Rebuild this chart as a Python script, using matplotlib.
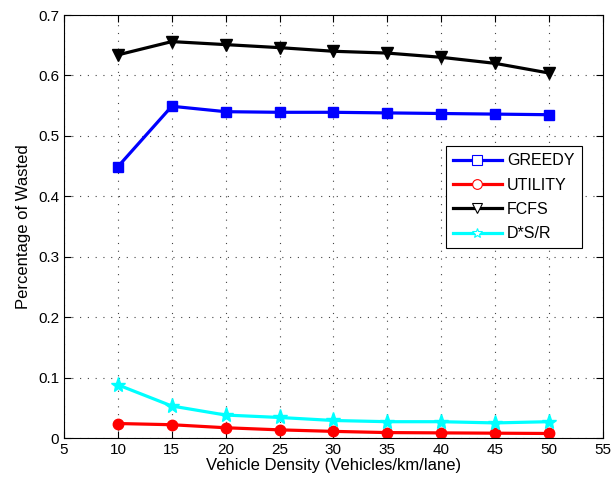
import matplotlib
matplotlib.use('Agg')
import matplotlib.pyplot as plt
from matplotlib.lines import Line2D

plt.rcParams['font.family'] = ['Liberation Sans', 'DejaVu Sans']

# vehicle density (vehicles/km/lane)
density = [10, 15, 20, 25, 30, 35, 40, 45, 50]

# percentage of wasted per scheme
greedy = [0.449, 0.549, 0.540, 0.539, 0.539, 0.538, 0.537, 0.536, 0.535]
utility = [0.024, 0.022, 0.017, 0.0135, 0.011, 0.009, 0.0085, 0.008, 0.0075]
fcfs = [0.634, 0.656, 0.651, 0.646, 0.640, 0.637, 0.630, 0.620, 0.604]
dsr = [0.088, 0.053, 0.038, 0.034, 0.029, 0.027, 0.027, 0.025, 0.027]

names = ['GREEDY', 'UTILITY', 'FCFS', 'D*S/R']
colors = ['#0000ff', '#ff0000', '#000000', '#00ffff']
markers = ['s', 'o', 'v', '*']
msizes = [7, 7.5, 9, 11]

fig = plt.figure(figsize=(6.12, 4.84), dpi=100)
ax = fig.add_axes([0.1046, 0.095, 0.8804, 0.874])

for ys, c, m, ms in zip([greedy, utility, fcfs, dsr], colors, markers, msizes):
    ax.plot(density, ys, color=c, lw=2.3, marker=m, ms=ms, mfc=c, mec=c)

ax.set_xlim(5, 55)
ax.set_ylim(0, 0.7)
ax.set_xticks(range(5, 60, 5))
ax.set_yticks([0, 0.1, 0.2, 0.3, 0.4, 0.5, 0.6, 0.7])
ax.set_yticklabels(['0', '0.1', '0.2', '0.3', '0.4', '0.5', '0.6', '0.7'])
ax.set_axisbelow(True)
ax.grid(True, linestyle=(0, (1, 6)), color='#444444', lw=0.8)
ax.tick_params(direction='in', labelsize=11, length=5, top=True, right=True)
ax.set_xlabel('Vehicle Density (Vehicles/km/lane)', fontsize=12, labelpad=1)
ax.set_ylabel('Percentage of Wasted', fontsize=12, labelpad=5)

# legend uses hollow markers
handles = [Line2D([], [], color=c, lw=2.3, marker=m, ms=7, mfc='white', mec=c, mew=0.8)
           for c, m in zip(colors, markers)]
leg = ax.legend(handles, names, loc='upper right', bbox_to_anchor=(0.961, 0.690),
                fontsize=11.5, fancybox=False, edgecolor='black', framealpha=1,
                handlelength=3.05, handletextpad=0.35, labelspacing=0.58,
                borderpad=0.45, borderaxespad=0)
leg.get_frame().set_linewidth(0.8)

fig.savefig('out.png', dpi=100)
